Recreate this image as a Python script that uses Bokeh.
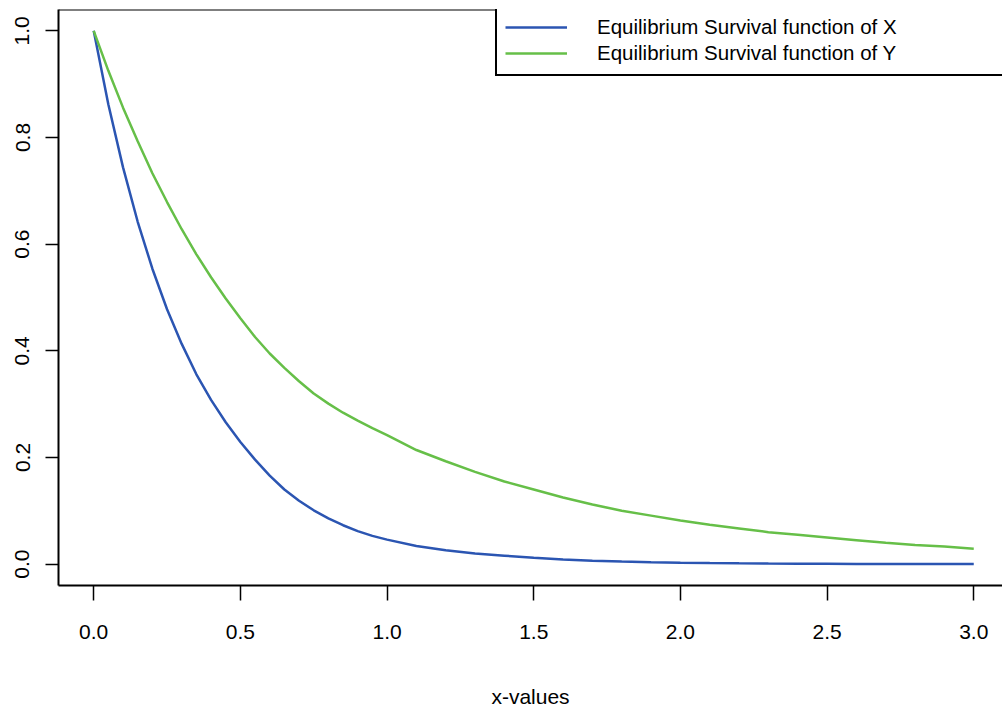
from bokeh.plotting import figure
from bokeh.models import Legend, LegendItem, Span, FixedTicker, PrintfTickFormatter, Range1d
from bokeh.embed import file_html
from bokeh.resources import INLINE

# ---- data ----
x_values = [0.0, 0.05, 0.1, 0.15, 0.2, 0.25, 0.3, 0.35, 0.4, 0.45, 0.5,
            0.55, 0.6, 0.65, 0.7, 0.75, 0.8, 0.85, 0.9, 0.95, 1.0,
            1.1, 1.2, 1.3, 1.4, 1.5, 1.6, 1.7, 1.8, 1.9, 2.0,
            2.1, 2.2, 2.3, 2.4, 2.5, 2.6, 2.7, 2.8, 2.9, 3.0]
surv_x = [1.0, 0.862, 0.744, 0.642, 0.554, 0.478, 0.413, 0.356, 0.308, 0.266, 0.229,
          0.196, 0.166, 0.140, 0.119, 0.101, 0.086, 0.073, 0.062, 0.053, 0.046,
          0.034, 0.026, 0.020, 0.016, 0.012, 0.0088, 0.0065, 0.0048, 0.0036, 0.0027,
          0.0020, 0.0015, 0.0011, 0.0008, 0.0006, 0.0005, 0.0004, 0.0003, 0.0002, 0.0002]
surv_y = [1.0, 0.925, 0.856, 0.793, 0.733, 0.679, 0.628, 0.581, 0.538, 0.498, 0.461,
          0.426, 0.395, 0.368, 0.343, 0.320, 0.301, 0.284, 0.269, 0.255, 0.242,
          0.214, 0.193, 0.173, 0.155, 0.140, 0.125, 0.112, 0.100, 0.091, 0.082,
          0.074, 0.067, 0.060, 0.055, 0.050, 0.045, 0.040, 0.036, 0.033, 0.029]
series_names = ["Equilibrium Survival function of X", "Equilibrium Survival function of Y"]
series_colors = ["#2B55B2", "#66BF48"]
x_ticks = [0.0, 0.5, 1.0, 1.5, 2.0, 2.5, 3.0]
y_ticks = [0.0, 0.2, 0.4, 0.6, 0.8, 1.0]
x_label = "x-values"

X_START, X_END = -0.12, 3.098
Y_START, Y_END = -0.04, 1.04
FONT = "Liberation Sans"

p = figure(width=1002, height=713, output_backend="svg", toolbar_location=None,
           x_range=Range1d(X_START, X_END), y_range=Range1d(Y_START, Y_END),
           min_border_left=58, min_border_right=0, min_border_top=9, min_border_bottom=128,
           background_fill_color="white", border_fill_color="white")
p.outline_line_color = None
p.xgrid.visible = False
p.ygrid.visible = False

r1 = p.line(x_values, surv_x, line_color=series_colors[0], line_width=2.5)
r2 = p.line(x_values, surv_y, line_color=series_colors[1], line_width=2.5)

for ax, ticks, tick_out in ((p.xaxis[0], x_ticks, 15), (p.yaxis[0], y_ticks, 13)):
    ax.ticker = FixedTicker(ticks=ticks)
    ax.formatter = PrintfTickFormatter(format="%.1f")
    ax.minor_tick_line_color = None
    ax.major_tick_in = 0
    ax.major_tick_out = tick_out
    ax.major_tick_line_width = 1.5
    ax.major_tick_line_color = "black"
    ax.axis_line_width = 2
    ax.axis_line_color = "black"
    ax.major_label_text_font = FONT
    ax.major_label_text_font_size = "21px"
    ax.major_label_text_color = "black"

p.yaxis[0].major_label_orientation = "vertical"
p.yaxis[0].major_label_standoff = 16
p.xaxis[0].major_label_standoff = 24
p.xaxis[0].axis_label = x_label
p.xaxis[0].axis_label_text_font = FONT
p.xaxis[0].axis_label_text_font_size = "21px"
p.xaxis[0].axis_label_text_font_style = "normal"
p.xaxis[0].axis_label_text_color = "black"
p.xaxis[0].axis_label_standoff = 43

legend = Legend(items=[LegendItem(label=series_names[0], renderers=[r1]),
                       LegendItem(label=series_names[1], renderers=[r2])],
                location=(437, 509), orientation="vertical",
                padding=8, spacing=0, margin=0,
                glyph_width=62, glyph_height=26, label_height=26, label_width=420,
                label_standoff=30,
                label_text_font=FONT, label_text_font_size="20.5px", label_text_color="black",
                border_line_color="black", border_line_width=2.5, border_line_alpha=1.0,
                background_fill_color="white", background_fill_alpha=1.0)
p.add_layout(legend)

# top border of the plot box
p.add_layout(Span(location=Y_END, dimension="width", line_color="black", line_width=2))

open("out.html", "w").write(file_html(p, INLINE))
